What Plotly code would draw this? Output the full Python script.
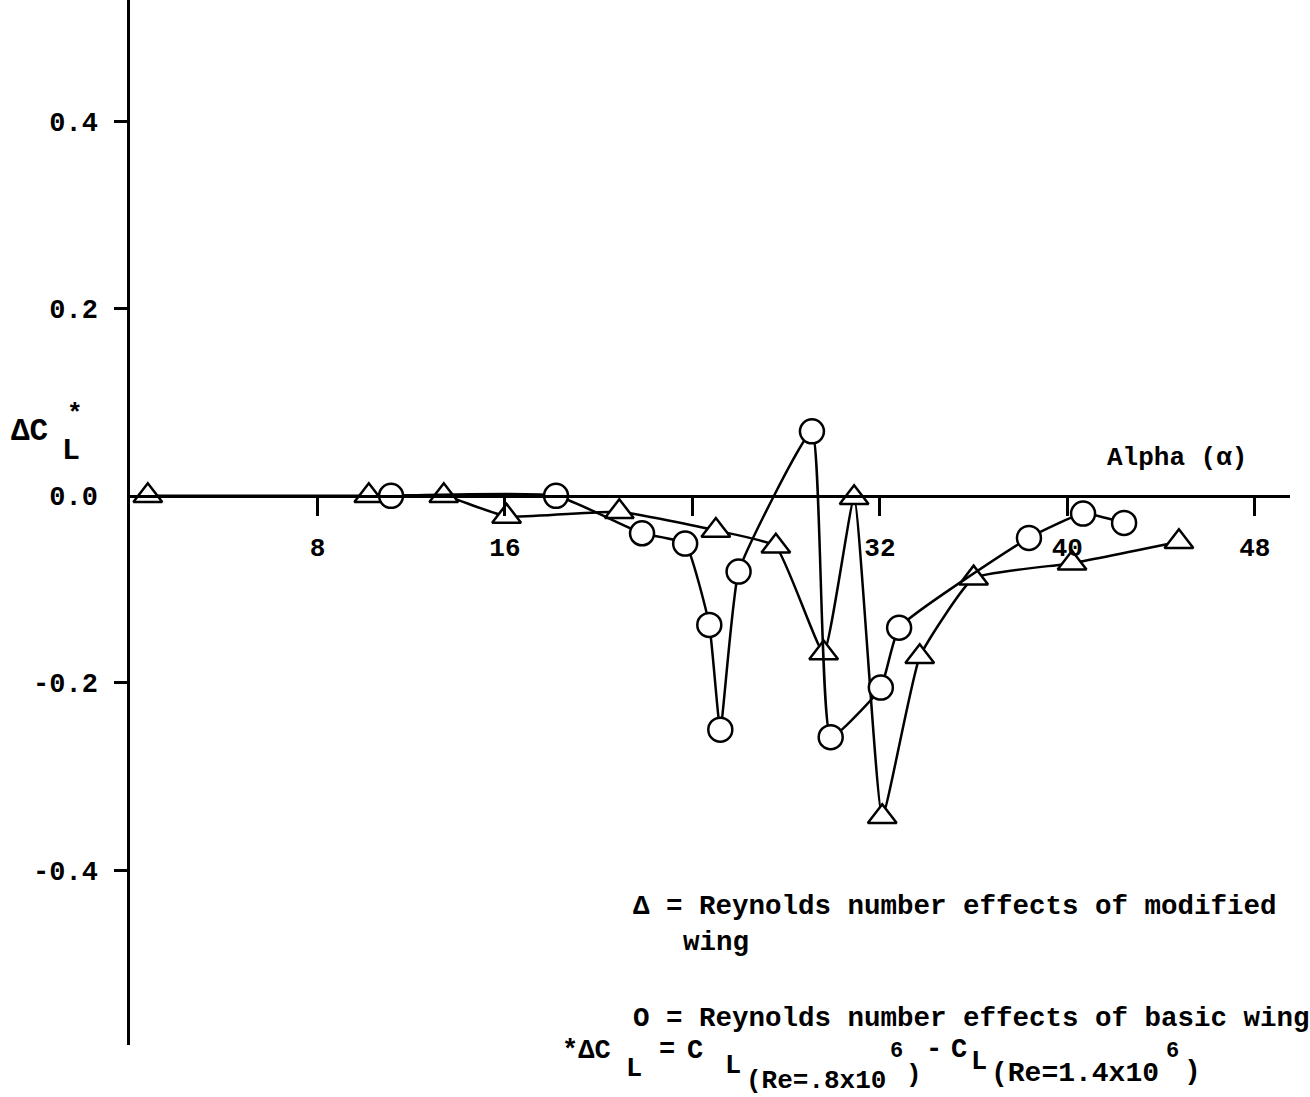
import plotly.graph_objects as go

# ---- data ----
alpha_modified = [0.76, 10.19, 13.39, 16.07, 20.88, 25.0, 27.56, 29.6, 30.9, 32.1, 33.7, 36.0, 40.2, 44.76]
dcl_modified = [0.0, 0.0, 0.0, -0.022, -0.017, -0.037, -0.054, -0.168, -0.002, -0.343, -0.172, -0.088, -0.072, -0.049]

alpha_basic = [11.14, 18.18, 21.85, 23.69, 24.72, 25.19, 25.97, 29.1, 29.9, 32.04, 32.82, 38.36, 40.67, 42.42]
dcl_basic = [0.0, 0.0, -0.040, -0.051, -0.138, -0.250, -0.081, 0.069, -0.258, -0.205, -0.141, -0.045, -0.019, -0.029]

x_tick_vals = [8, 16, 24, 32, 40, 48]
x_tick_text = ["8", "16", "", "32", "40", "48"]
y_tick_vals = [0.4, 0.2, 0.0, -0.2, -0.4]
y_tick_text = ["0.4", "0.2", "0.0", "-0.2", "-0.4"]
y_tick_marks = [0.4, 0.2, -0.2, -0.4]

# ---- layout constants ----
W, H = 1310, 1097
ML, MR, MT, MB = 130, 20, 0, 52
X_RANGE = [0, 49.5]
Y_RANGE = [-0.587, 0.530]
PW, PH = W - ML - MR, H - MT - MB
MONO = "Liberation Mono"
INK = "black"


def paper_x(px):
    return (px - ML) / PW


def paper_y(py):
    return 1 - (py - MT) / PH


fig = go.Figure()

fig.add_trace(go.Scatter(
    x=alpha_modified, y=dcl_modified, mode="lines+markers",
    line=dict(color=INK, width=2.5, shape="spline", smoothing=0.4),
    marker=dict(symbol="triangle-up", size=25, color="white",
                line=dict(color=INK, width=2.5)),
    cliponaxis=False, showlegend=False, name="modified wing"))

fig.add_trace(go.Scatter(
    x=alpha_basic, y=dcl_basic, mode="lines+markers",
    line=dict(color=INK, width=2.5, shape="spline", smoothing=0.4),
    marker=dict(symbol="circle", size=24, color="white",
                line=dict(color=INK, width=2.5)),
    cliponaxis=False, showlegend=False, name="basic wing"))

zero_pos = (0 - Y_RANGE[0]) / (Y_RANGE[1] - Y_RANGE[0])

fig.update_layout(
    width=W, height=H,
    margin=dict(l=ML, r=MR, t=MT, b=MB),
    paper_bgcolor="white", plot_bgcolor="white",
    font=dict(family=MONO, color=INK),
    xaxis=dict(
        range=X_RANGE, anchor="free", position=zero_pos,
        showgrid=False, zeroline=False,
        showline=True, linecolor=INK, linewidth=2.5,
        ticks="outside", ticklen=18, tickwidth=2.5, tickcolor=INK,
        tickmode="array", tickvals=x_tick_vals, ticktext=x_tick_text,
        tickfont=dict(family=MONO, size=26, color=INK, weight="bold"),
        ticklabelstandoff=9,
        layer="above traces",
    ),
    yaxis=dict(
        range=Y_RANGE,
        showgrid=False, zeroline=False,
        showline=True, linecolor=INK, linewidth=2.5,
        ticks="", tickmode="array", tickvals=y_tick_vals, ticktext=y_tick_text,
        tickfont=dict(family=MONO, size=27, color=INK, weight="bold"),
        ticklabelstandoff=24,
        minor=dict(tickmode="array", tickvals=y_tick_marks, ticks="outside",
                   ticklen=13, tickwidth=2.5, tickcolor=INK),
        layer="above traces",
    ),
)


def label(text, left_px, mid_py, size, weight="bold"):
    fig.add_annotation(
        x=paper_x(left_px), y=paper_y(mid_py), xref="paper", yref="paper",
        text=text, showarrow=False, xanchor="left", yanchor="middle",
        borderpad=0,
        font=dict(family=MONO, size=size, color=INK, weight=weight))


# axis titles
label("Alpha (α)", 1106, 458, 26)
label("ΔC", 10, 431, 31)
label("L", 61, 451, 30)
label("*", 66, 414, 26)

# key
label("Δ = Reynolds number effects of modified", 632, 906, 27.5)
label("wing", 682, 942, 27.5)
label("O = Reynolds number effects of basic wing", 632, 1018, 27.5)

# definition of ΔC_L
label("*ΔC", 561, 1051, 27)
label("L", 625, 1069, 27)
label("=", 658, 1050, 27)
label("C", 686, 1051, 27)
label("L", 724, 1066, 27)
label("(Re=.8x10", 745, 1081, 26)
label("6", 889, 1051, 22)
label(")", 905, 1075, 26)
label("-", 925, 1050, 27)
label("C", 950, 1050, 27)
label("L", 970, 1062, 27)
label("(Re=1.4x10", 990, 1073, 28)
label("6", 1165, 1051, 22)
label(")", 1183, 1071, 28)

fig.write_html("out.html", config={"displayModeBar": False},
               post_script="document.body.style.margin='0px';")
